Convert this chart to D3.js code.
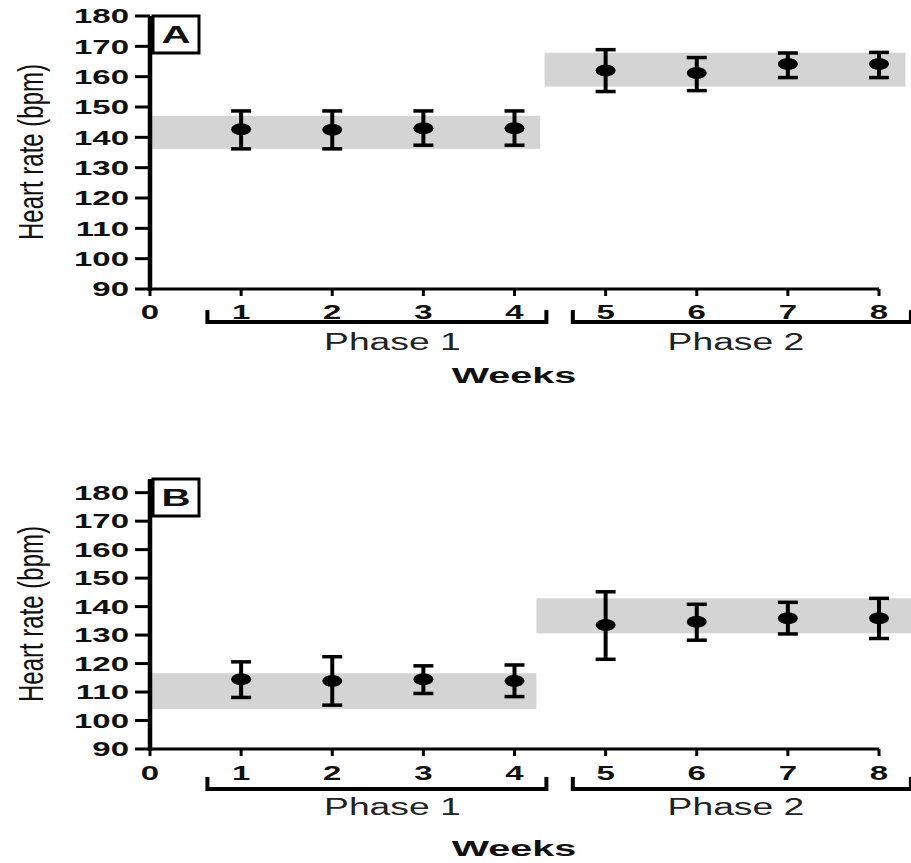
<!DOCTYPE html>
<html>
<head>
<meta charset="utf-8">
<script src="https://cdn.jsdelivr.net/npm/d3@7"></script>
<style>
  body { margin: 0; background: #fff; }
  svg { display: block; }
</style>
</head>
<body>
<div id="chart"></div>
<script>
// values
const weeks = [1, 2, 3, 4, 5, 6, 7, 8];
const xTicks = [0, 1, 2, 3, 4, 5, 6, 7, 8];
const yTicks = [90, 100, 110, 120, 130, 140, 150, 160, 170, 180];

const meanA = [142.7, 142.5, 143.0, 143.0, 162.0, 161.2, 164.2, 164.2];
const lowA  = [136.2, 136.2, 137.4, 137.4, 155.1, 155.4, 159.7, 159.7];
const highA = [148.7, 148.7, 148.7, 148.7, 168.9, 166.3, 167.8, 168.0];

const meanB = [114.5, 113.9, 114.5, 113.9, 133.5, 134.7, 135.9, 135.9];
const lowB  = [108.1, 105.4, 109.5, 108.4, 121.5, 128.2, 130.4, 128.8];
const highB = [120.6, 122.4, 119.2, 119.5, 145.2, 140.8, 141.5, 142.9];

// grey reference bands, one per phase
const bandLowA  = [136.2, 156.7];
const bandHighA = [147.1, 167.9];
const bandFromA = [0, 4.33];
const bandToA   = [4.28, 8.29];

const bandLowB  = [104.0, 130.6];
const bandHighB = [116.6, 142.9];
const bandFromB = [0, 4.24];
const bandToB   = [4.24, 8.45];

const phaseNames = ["Phase 1", "Phase 2"];
const phaseFrom  = [0.63, 4.64];
const phaseTo    = [4.35, 8.35];
const phaseMid   = [2.66, 6.43];

const panels = [
  { label: "A", mean: meanA, low: lowA, high: highA,
    bandLow: bandLowA, bandHigh: bandHighA, bandFrom: bandFromA, bandTo: bandToA,
    top: 16, bottom: 289, yMax: 180, tickDy: 23, bracketDy: 33, phaseDy: 53, weeksDy: 86, labelY: 152 },
  { label: "B", mean: meanB, low: lowB, high: highB,
    bandLow: bandLowB, bandHigh: bandHighB, bandFrom: bandFromB, bandTo: bandToB,
    top: 479, bottom: 749, yMax: 184.8, tickDy: 24, bracketDy: 40, phaseDy: 58, weeksDy: 99, labelY: 614 }
];

const width = 911, height = 863;
const svg = d3.select("#chart").append("svg")
  .attr("width", width)
  .attr("height", height);

const x = d3.scaleLinear().domain([0, 8]).range([150, 879]);

// the source figure is stretched sideways, so text gets an x scale
const stretchText = (parent, px, py, txt, o) => {
  const g = parent.append("g")
    .attr("transform", `translate(${px},${py}) rotate(${o.rotate || 0}) scale(${o.sx || 1},${o.sy || 1})`);
  return g.append("text")
    .attr("text-anchor", o.anchor || "middle")
    .attr("dy", "0.36em")
    .style("font-family", "'Liberation Sans', Arial, sans-serif")
    .style("font-size", o.size + "px")
    .style("font-weight", o.bold ? "bold" : "normal")
    .style("fill", o.fill || "#111")
    .text(txt);
};

panels.forEach(p => {
  const y = d3.scaleLinear().domain([90, p.yMax]).range([p.bottom, p.top]);
  const g = svg.append("g");

  // bands
  g.selectAll("rect.band")
    .data(p.bandLow.map((lo, i) => ({ lo, hi: p.bandHigh[i], from: p.bandFrom[i], to: p.bandTo[i] })))
    .enter().append("rect")
      .attr("class", "band")
      .attr("x", d => x(d.from))
      .attr("y", d => y(d.hi))
      .attr("width", d => x(d.to) - x(d.from))
      .attr("height", d => y(d.lo) - y(d.hi))
      .style("fill", "#d4d4d4");

  // y axis
  g.append("line")
    .attr("x1", x(0)).attr("x2", x(0))
    .attr("y1", p.top).attr("y2", p.bottom + 2)
    .style("stroke", "#000").style("stroke-width", 4.5);
  g.selectAll("line.ytick")
    .data(yTicks).enter().append("line")
      .attr("x1", x(0) - 15).attr("x2", x(0))
      .attr("y1", d => y(d)).attr("y2", d => y(d))
      .style("stroke", "#000").style("stroke-width", 3);
  yTicks.forEach(t => stretchText(g, 129, y(t), t, { size: 20, bold: true, sx: 1.65, anchor: "end" }));

  // x axis
  g.append("line")
    .attr("x1", x(0)).attr("x2", x(8))
    .attr("y1", p.bottom).attr("y2", p.bottom)
    .style("stroke", "#000").style("stroke-width", 3);
  g.selectAll("line.xtick")
    .data(xTicks).enter().append("line")
      .attr("x1", d => x(d)).attr("x2", d => x(d))
      .attr("y1", p.bottom).attr("y2", p.bottom + 7)
      .style("stroke", "#000").style("stroke-width", 3);
  xTicks.forEach(t => stretchText(g, x(t), p.bottom + p.tickDy, t, { size: 20, bold: true, sx: 1.65 }));

  // phase brackets
  phaseNames.forEach((name, i) => {
    const by = p.bottom + p.bracketDy;
    g.append("path")
      .attr("d", `M${x(phaseFrom[i])},${by - 12}V${by}H${x(phaseTo[i])}V${by - 12}`)
      .style("fill", "none").style("stroke", "#000").style("stroke-width", 4);
    stretchText(g, x(phaseMid[i]), p.bottom + p.phaseDy, name, { size: 23, sx: 1.62, fill: "#222" });
  });

  stretchText(g, 514, p.bottom + p.weeksDy, "Weeks", { size: 22, bold: true, sx: 1.8 });

  // y axis title
  stretchText(g, 30, p.labelY, "Heart rate (bpm)", { size: 24, rotate: -90, sy: 1.5 });

  // panel letter box
  g.append("rect")
    .attr("x", x(0) + 3).attr("y", p.top)
    .attr("width", 46).attr("height", 37)
    .style("fill", "#fff").style("stroke", "#000").style("stroke-width", 3);
  stretchText(g, x(0) + 26, p.top + 19, p.label, { size: 23, bold: true, sx: 1.75 });

  // error bars and means
  const pts = weeks.map((w, i) => ({ w, m: p.mean[i], lo: p.low[i], hi: p.high[i] }));
  const eb = g.selectAll("g.pt").data(pts).enter().append("g").attr("class", "pt");
  eb.append("line")
    .attr("x1", d => x(d.w)).attr("x2", d => x(d.w))
    .attr("y1", d => y(d.hi)).attr("y2", d => y(d.lo))
    .style("stroke", "#000").style("stroke-width", 4);
  ["hi", "lo"].forEach(k => {
    eb.append("line")
      .attr("x1", d => x(d.w) - 10).attr("x2", d => x(d.w) + 10)
      .attr("y1", d => y(d[k])).attr("y2", d => y(d[k]))
      .style("stroke", "#000").style("stroke-width", 3.5);
  });
  eb.append("ellipse")
    .attr("cx", d => x(d.w)).attr("cy", d => y(d.m))
    .attr("rx", 10).attr("ry", 6)
    .style("fill", "#000");
});
</script>
</body>
</html>
